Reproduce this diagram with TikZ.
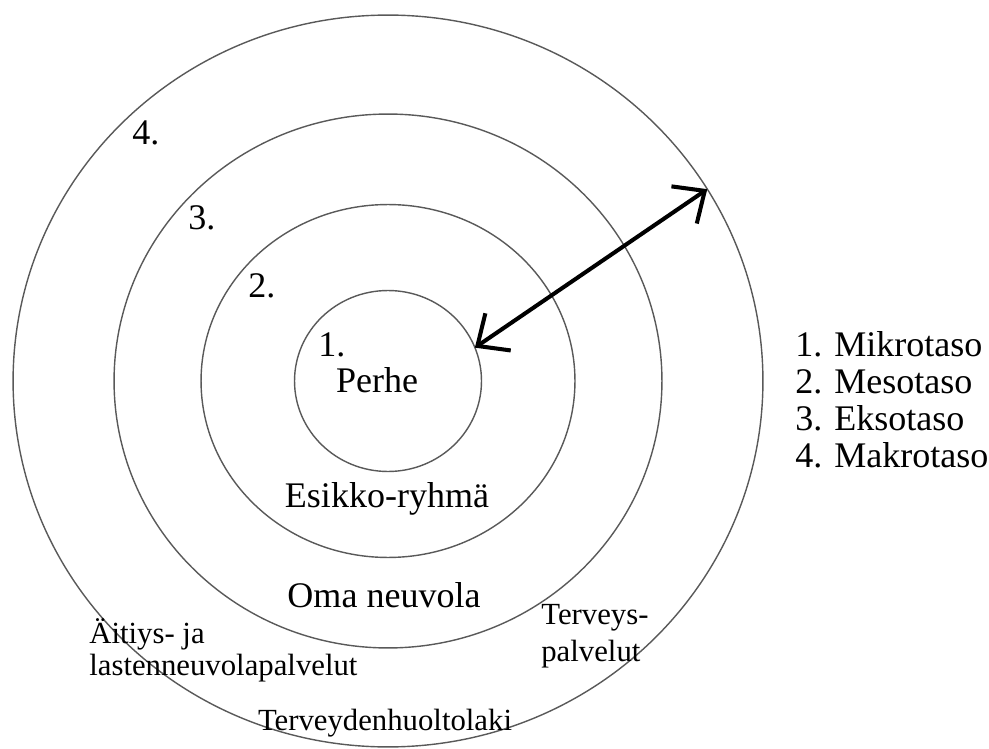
\documentclass[tikz,border=0pt]{standalone}
\usepackage{fontspec}
\setmainfont{Liberation Serif}
\usetikzlibrary{shapes.geometric,arrows.meta}

\tikzset{
  ring/.style={ellipse, draw=black!65, line width=0.8pt, inner sep=0pt, outer sep=0pt},
  iso/.style={font=\fontsize{20.5}{21}\selectfont, inner sep=0pt},
  pieni/.style={font=\fontsize{17.5}{21}\selectfont, inner sep=0pt},
}

\begin{document}
\begin{tikzpicture}[x=0.02cm, y=-0.02cm]
  \useasboundingbox (0,0) rectangle (989,749);
  \coordinate (keski) at (388,381);
  % tasot
  \node[ring, minimum width=15cm, minimum height=14.64cm] (makro) at (keski) {};
  \node[ring, minimum width=10.96cm, minimum height=10.68cm] (ekso) at (keski) {};
  \node[ring, minimum width=7.48cm, minimum height=7.06cm] (meso) at (keski) {};
  \node[ring, minimum width=3.74cm, minimum height=3.62cm] (mikro) at (keski) {};
  % numerot
  \node[iso, anchor=base west] (n4) at (132,145) {4.};
  \node[iso, anchor=base west] (n3) at (188,230) {3.};
  \node[iso, anchor=base west] (n2) at (248,298) {2.};
  \node[iso, anchor=base west] (n1) at (318,357) {1.};
  % sisalto
  \node[iso, anchor=base] (perhe) at (377,392) {Perhe};
  \node[iso, anchor=base] (esikko) at (387,507) {Esikko-ryhmä};
  \node[iso, anchor=base] (oma) at (384,607) {Oma neuvola};
  \node[pieni, anchor=base west, align=left] (terveys) at (541,661) {Terveys-\\palvelut};
  \node[pieni, anchor=base west, align=left] (aitiys) at (89,675) {Äitiys- ja\\[-3pt]lastenneuvolapalvelut};
  \node[pieni, anchor=base] (laki) at (385,730) {Terveydenhuoltolaki};
  % selite
  \node[iso, anchor=base west, align=left] (selite) at (795,467)
    {1. Mikrotaso\\2. Mesotaso\\3. Eksotaso\\4. Makrotaso};
  \draw[line width=2.3pt, {Straight Barb[length=0.5cm,width=0.9cm]}-{Straight Barb[length=0.5cm,width=0.9cm]}]
    (mikro.21) -- (makro.31);
\end{tikzpicture}
\end{document}
